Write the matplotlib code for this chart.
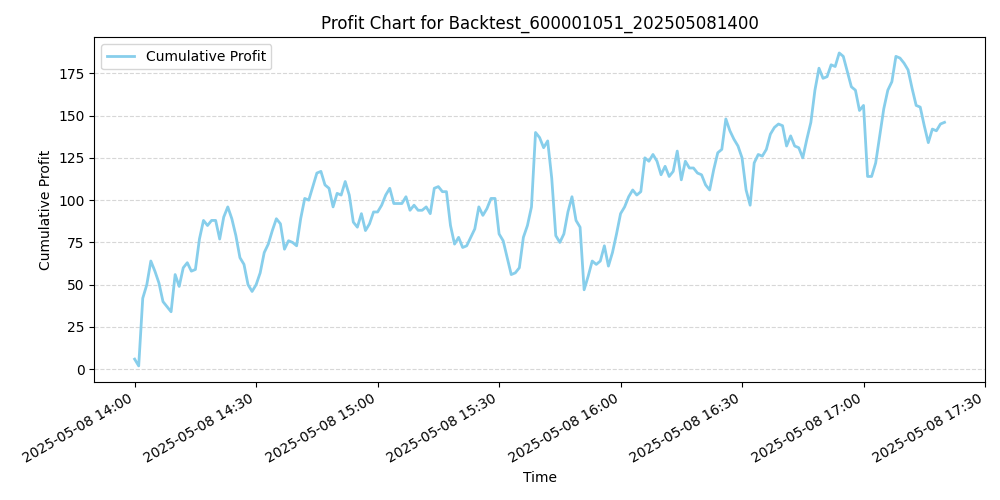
import matplotlib
matplotlib.use("Agg")
import matplotlib.pyplot as plt
import matplotlib.dates as mdates
import pandas as pd

profit = [6, 2, 42, 50, 64, 58, 51, 40, 37, 34, 56, 49, 60, 63, 58, 59, 77, 88, 85, 88,
          88, 77, 90, 96, 89, 79, 66, 62, 50, 46, 50, 57, 69, 74, 82, 89, 86, 71, 76, 75,
          73, 89, 101, 100, 108, 116, 117, 109, 107, 96, 104, 103, 111, 103, 87, 84, 92, 82, 86, 93,
          93, 97, 103, 107, 98, 98, 98, 102, 94, 97, 94, 94, 96, 92, 107, 108, 105, 105, 85, 74,
          78, 72, 73, 78, 83, 96, 91, 95, 101, 101, 80, 76, 66, 56, 57, 60, 78, 85, 96, 140,
          137, 131, 135, 113, 79, 75, 80, 93, 102, 88, 84, 47, 55, 64, 62, 64, 73, 61, 69, 80,
          92, 96, 102, 106, 103, 105, 125, 123, 127, 123, 115, 120, 114, 117, 129, 112, 123, 119, 119, 116,
          115, 109, 106, 118, 128, 130, 148, 141, 136, 132, 125, 106, 97, 122, 127, 126, 130, 139, 143, 145,
          144, 132, 138, 132, 131, 125, 136, 146, 165, 178, 172, 173, 180, 179, 187, 185, 176, 167, 165, 153,
          156, 114, 114, 122, 138, 154, 165, 170, 185, 184, 181, 177, 166, 156, 155, 144, 134, 142, 141, 145, 146]
times = pd.date_range("2025-05-08 14:00", periods=len(profit), freq="1min")

fig, ax = plt.subplots(figsize=(10, 5), dpi=100)
ax.plot(times, profit, color="skyblue", linewidth=2, label="Cumulative Profit")
ax.set_title("Profit Chart for Backtest_600001051_202505081400")
ax.set_xlabel("Time")
ax.set_ylabel("Cumulative Profit")
ax.grid(axis="y", linestyle="--", alpha=0.5)
ax.legend(loc="upper left")
ax.xaxis.set_major_locator(mdates.MinuteLocator(byminute=[0, 30]))
ax.xaxis.set_major_formatter(mdates.DateFormatter("%Y-%m-%d %H:%M"))
ax.set_xlim(pd.Timestamp("2025-05-08 13:50"), pd.Timestamp("2025-05-08 17:30"))
fig.autofmt_xdate()
fig.tight_layout()
fig.savefig("out.png")
